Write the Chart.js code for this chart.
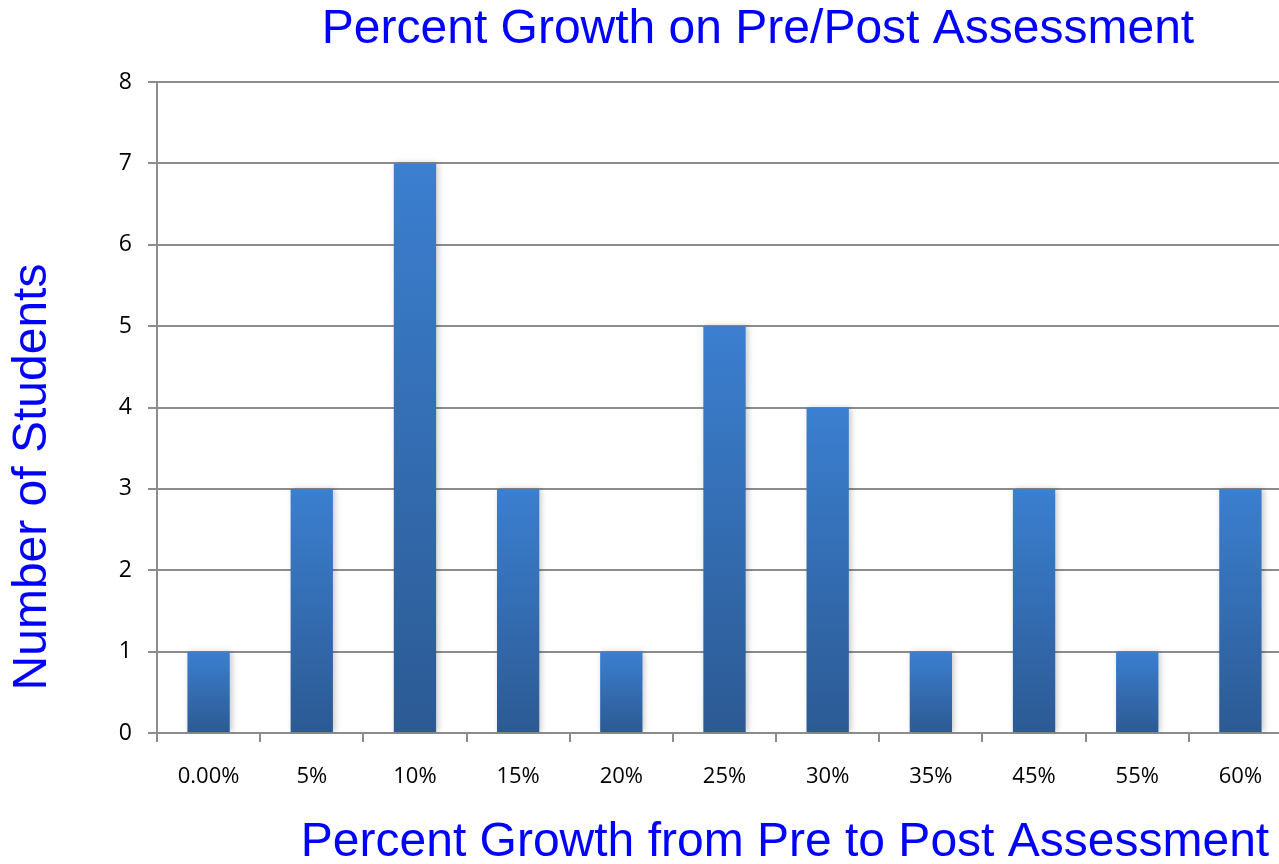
<!DOCTYPE html>
<html>
<head>
<meta charset="utf-8">
<title>Percent Growth on Pre/Post Assessment</title>
<script src="https://cdn.jsdelivr.net/npm/chart.js@4.4.0/dist/chart.umd.min.js"></script>
<style>
  html, body { margin: 0; padding: 0; background: #fff; overflow: hidden; }
  #growthChart { display: block; }
</style>
</head>
<body>
<canvas id="growthChart" width="1295" height="864"></canvas>
<script>
const categories = ['0.00%', '5%', '10%', '15%', '20%', '25%', '30%', '35%', '45%', '55%', '60%'];
const studentCounts = [1, 3, 7, 3, 1, 5, 4, 1, 3, 1, 3];
const yTicks = [0, 1, 2, 3, 4, 5, 6, 7, 8];

const chartTitle = 'Percent Growth on Pre/Post Assessment';
const xTitle = 'Percent Growth from Pre to Post Assessment';
const yTitle = 'Number of Students';

const gridColor = '#8c8c8c';
const titleBlue = '#0000ff';

// each bar gets its own light-to-dark gradient
function barGradient(context) {
    const chart = context.chart;
    const y = chart.scales.y;
    if (!chart.chartArea || !y) return '#3573bd';
    const top = y.getPixelForValue(context.raw);
    const bottom = y.getPixelForValue(0);
    const g = chart.ctx.createLinearGradient(0, top, 0, bottom);
    g.addColorStop(0, '#3b7fd0');
    g.addColorStop(1, '#2c5a93');
    return g;
}

const barShadow = {
    id: 'barShadow',
    beforeDatasetsDraw(chart) {
        const ctx = chart.ctx;
        ctx.save();
        ctx.shadowColor = 'rgba(0, 0, 0, 0.22)';
        ctx.shadowBlur = 6;
        ctx.shadowOffsetX = 2;
    },
    afterDatasetsDraw(chart) {
        chart.ctx.restore();
    }
};

const titles = {
    id: 'titles',
    afterDraw(chart) {
        const ctx = chart.ctx;
        const area = chart.chartArea;
        ctx.save();
        ctx.fillStyle = titleBlue;
        ctx.textAlign = 'center';
        ctx.textBaseline = 'middle';
        ctx.font = '48px "Liberation Sans", Arial, sans-serif';
        ctx.fillText(chartTitle, 758, area.top - 52);
        ctx.fillText(xTitle, 785, area.bottom + 110);
        ctx.translate(33, 477);
        ctx.rotate(-Math.PI / 2);
        ctx.fillText(yTitle, 0, 0);
        ctx.restore();
    }
};

const ctx = document.getElementById('growthChart').getContext('2d');
new Chart(ctx, {
    type: 'bar',
    data: {
        labels: categories,
        datasets: [{
            label: 'Number of Students',
            data: studentCounts,
            backgroundColor: barGradient,
            borderWidth: 0,
            barPercentage: 0.41,
            categoryPercentage: 1
        }]
    },
    options: {
        responsive: false,
        animation: false,
        layout: {
            padding: { top: 82, right: 3, left: 0, bottom: 0 }
        },
        plugins: {
            legend: { display: false },
            tooltip: { enabled: false },
            title: { display: false }
        },
        scales: {
            x: {
                grid: {
                    offset: true,
                    drawOnChartArea: false,
                    drawTicks: true,
                    tickLength: 9,
                    color: gridColor,
                    lineWidth: 2
                },
                border: { display: true, color: gridColor, width: 2 },
                ticks: {
                    color: '#000',
                    padding: 22,
                    maxRotation: 0,
                    font: { family: '"Open Sans", sans-serif', size: 22 }
                },
                afterFit(scale) { scale.height = 131; }
            },
            y: {
                min: 0,
                max: 8,
                afterBuildTicks(scale) {
                    scale.ticks = yTicks.map(v => ({ value: v }));
                },
                grid: {
                    color: gridColor,
                    lineWidth: 2,
                    tickLength: 9
                },
                border: { display: true, color: gridColor, width: 2 },
                ticks: {
                    color: '#000',
                    padding: 16,
                    font: { family: '"Open Sans", sans-serif', size: 23 }
                },
                afterFit(scale) { scale.width = 157; }
            }
        }
    },
    plugins: [barShadow, titles]
});
</script>
</body>
</html>
